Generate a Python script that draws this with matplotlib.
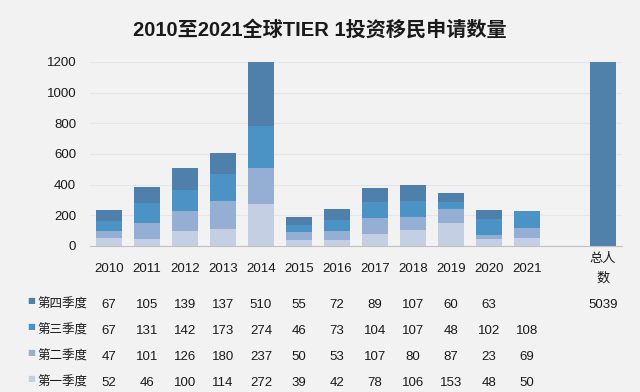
import matplotlib
matplotlib.use("Agg")
import matplotlib.pyplot as plt
import matplotlib.transforms as mtransforms
import numpy as np

plt.rcParams['font.family'] = ['Liberation Sans', 'Noto Sans CJK SC', 'DejaVu Sans']

years = ['2010', '2011', '2012', '2013', '2014', '2015', '2016', '2017', '2018', '2019', '2020', '2021']
q1 = [52, 46, 100, 114, 272, 39, 42, 78, 106, 153, 48, 50]
q2 = [47, 101, 126, 180, 237, 50, 53, 107, 80, 87, 23, 69]
q3 = [67, 131, 142, 173, 274, 46, 73, 104, 107, 48, 102, 108]
q4 = [67, 105, 139, 137, 510, 55, 72, 89, 107, 60, 63, None]
total_label = '总人\n数'
total_value = 5039
series_names = ['第四季度', '第三季度', '第二季度', '第一季度']
colors = {'第一季度': '#c4cfe3', '第二季度': '#95aed3', '第三季度': '#4c93c5', '第四季度': '#4f80ab'}
total_color = '#4f81aa'
title = '2010至2021全球TIER 1投资移民申请数量'

fig = plt.figure(figsize=(6.4, 3.92), dpi=100, facecolor='#f2f2f2')
ax = fig.add_axes([90/640, 1 - 246/392, 532/640, 184/392])
ax.set_facecolor('#f2f2f2')

x = np.arange(len(years))
w = 0.68
vals = {'第一季度': q1, '第二季度': q2, '第三季度': q3, '第四季度': [v if v is not None else 0 for v in q4]}
bottom = np.zeros(len(years))
for name in ['第一季度', '第二季度', '第三季度', '第四季度']:
    v = np.array(vals[name], dtype=float)
    ax.bar(x, v, w, bottom=bottom, color=colors[name], zorder=2)
    bottom += v
total_x = len(years) + 1
ax.bar([total_x], [total_value], w, color=total_color, zorder=2)

ax.set_ylim(0, 1200)
ax.set_xlim(-0.5, total_x + 0.5)
ax.set_yticks([0, 200, 400, 600, 800, 1000, 1200])
ax.yaxis.grid(True, color='#e6e6e6', linewidth=0.8, zorder=0)
ax.set_axisbelow(True)
for s in ['top', 'right', 'left']:
    ax.spines[s].set_visible(False)
ax.spines['bottom'].set_color('#c0c0c0')
ax.tick_params(axis='both', length=0, labelsize=9.5, colors='#1a1a1a')
ax.tick_params(axis='y', pad=10)
ax.set_xticks(list(x) + [total_x])
ax.set_xticklabels(years + [total_label], va='center', linespacing=1.85)
ax.tick_params(axis='x', pad=16.5)

fig.text(0.5, 1 - 30/392, title, ha='center', va='center', fontsize=14.5, fontweight='bold', color='#1a1a1a')

# data table
trans = mtransforms.blended_transform_factory(ax.transData, fig.transFigure)
row_y = [1 - 305/392, 1 - 331/392, 1 - 357/392, 1 - 383/392]
row_vals = [q4, q3, q2, q1]
for name, yy, rv in zip(series_names, row_y, row_vals):
    fig.text(31/640, yy + 0.012, '■', fontsize=6, color=colors[name], ha='center', va='center',
             family=['DejaVu Sans'])
    fig.text(37/640, yy, name, fontsize=9, ha='left', va='center', color='#1a1a1a')
    for i, v in enumerate(rv):
        if v is not None:
            fig.text(x[i], yy, str(v), transform=trans, fontsize=9.5, ha='center', va='center', color='#1a1a1a')
fig.text(total_x, row_y[0], str(total_value), transform=trans, fontsize=9.5, ha='center', va='center', color='#1a1a1a')

fig.savefig('out.png', dpi=100, facecolor=fig.get_facecolor())
